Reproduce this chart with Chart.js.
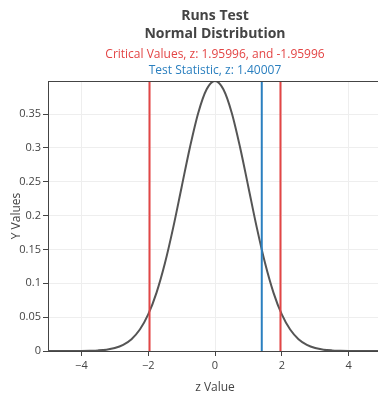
<!DOCTYPE html>
<html>
<head>
<meta charset="utf-8">
<script src="https://cdn.jsdelivr.net/npm/chart.js@4.4.0/dist/chart.umd.min.js"></script>
<style>
  html, body { margin: 0; padding: 0; background: #fff; }
</style>
</head>
<body>
<canvas id="grafico" width="378" height="394"></canvas>
<script>
// Dados
const zValues = [-5, -4.75, -4.5, -4.25, -4, -3.75, -3.5, -3.25, -3, -2.75, -2.5, -2.25, -2, -1.75, -1.5, -1.25, -1, -0.75, -0.5, -0.25,
  0, 0.25, 0.5, 0.75, 1, 1.25, 1.5, 1.75, 2, 2.25, 2.5, 2.75, 3, 3.25, 3.5, 3.75, 4, 4.25, 4.5, 4.75, 5];
const yValues = [0.0000, 0.0000, 0.0000, 0.0000, 0.0001, 0.0004, 0.0009, 0.0020, 0.0044, 0.0091, 0.0175, 0.0317, 0.0540, 0.0863, 0.1295, 0.1826, 0.2420, 0.3011, 0.3521, 0.3867,
  0.3989, 0.3867, 0.3521, 0.3011, 0.2420, 0.1826, 0.1295, 0.0863, 0.0540, 0.0317, 0.0175, 0.0091, 0.0044, 0.0020, 0.0009, 0.0004, 0.0001, 0.0000, 0.0000, 0.0000, 0.0000];
const criticalValues = [-1.95996, 1.95996];
const testStatistic = 1.40007;
const xTicks = [-4, -2, 0, 2, 4];
const yTicks = [0, 0.05, 0.1, 0.15, 0.2, 0.25, 0.3, 0.35];
const titulos = ['Runs Test', 'Normal Distribution'];
const subtitulos = ['Critical Values, z: 1.95996, and -1.95996', 'Test Statistic, z: 1.40007'];

const X_MIN = -5, X_MAX = 4.88;
const Y_MAX = 0.3989;
const FONTE = '"Open Sans", sans-serif';
const VERMELHO = '#e34545';
const AZUL = '#2a7fbf';

const curva = zValues.map((z, i) => ({ x: z, y: yValues[i] }));
const linhaVertical = v => [{ x: v, y: 0 }, { x: v, y: Y_MAX }];

// Títulos, moldura superior e nomes dos eixos
const textos = {
  id: 'textos',
  afterDraw(chart) {
    const ctx = chart.ctx;
    const area = chart.chartArea;
    const cx = chart.scales.x.getPixelForValue(0);
    ctx.save();
    ctx.strokeStyle = '#444';
    ctx.lineWidth = 1;
    ctx.beginPath();
    ctx.moveTo(area.left, area.top + 0.5);
    ctx.lineTo(area.right, area.top + 0.5);
    ctx.stroke();

    ctx.textAlign = 'center';
    ctx.textBaseline = 'middle';
    ctx.fillStyle = '#444';
    ctx.font = 'bold 14px ' + FONTE;
    ctx.fillText(titulos[0], cx, 16);
    ctx.fillText(titulos[1], cx, 34);
    ctx.font = '12px ' + FONTE;
    ctx.fillStyle = VERMELHO;
    ctx.fillText(subtitulos[0], cx, 55);
    ctx.fillStyle = AZUL;
    ctx.fillText(subtitulos[1], cx, 71);

    ctx.fillStyle = '#444';
    ctx.fillText('z Value', cx, 388);
    ctx.translate(17, (area.top + area.bottom) / 2);
    ctx.rotate(-Math.PI / 2);
    ctx.fillText('Y Values', 0, 0);
    ctx.restore();
  }
};

new Chart(document.getElementById('grafico'), {
  type: 'line',
  data: {
    datasets: [
      {
        data: linhaVertical(criticalValues[0]),
        borderColor: VERMELHO, borderWidth: 2, pointRadius: 0
      },
      {
        data: linhaVertical(criticalValues[1]),
        borderColor: VERMELHO, borderWidth: 2, pointRadius: 0
      },
      {
        data: linhaVertical(testStatistic),
        borderColor: AZUL, borderWidth: 2, pointRadius: 0
      },
      {
        data: curva,
        borderColor: '#555', borderWidth: 2, pointRadius: 0,
        cubicInterpolationMode: 'monotone'
      }
    ]
  },
  options: {
    responsive: false,
    animation: false,
    devicePixelRatio: 1,
    layout: { padding: { top: 81, left: 0, right: 0, bottom: 0 } },
    plugins: { legend: { display: false }, title: { display: false }, tooltip: { enabled: false } },
    scales: {
      x: {
        type: 'linear',
        min: X_MIN,
        max: X_MAX,
        afterBuildTicks: s => { s.ticks = xTicks.map(v => ({ value: v })); },
        afterFit: s => { s.height = 43; },
        grid: { color: '#eee', tickColor: '#444', tickLength: 5 },
        border: { color: '#444', width: 1 },
        ticks: {
          color: '#444', font: { family: FONTE, size: 11 }, padding: 3, maxRotation: 0,
          callback: v => String(v).replace('-', '\u2212')
        }
      },
      y: {
        min: 0,
        max: Y_MAX,
        afterBuildTicks: s => { s.ticks = yTicks.map(v => ({ value: v })); },
        afterFit: s => { s.width = 48; },
        grid: { color: '#eee', tickColor: '#444', tickLength: 5 },
        border: { color: '#444', width: 1 },
        ticks: {
          color: '#444', font: { family: FONTE, size: 11 }, padding: 2,
          callback: v => String(v)
        }
      }
    }
  },
  plugins: [textos]
});
</script>
</body>
</html>
